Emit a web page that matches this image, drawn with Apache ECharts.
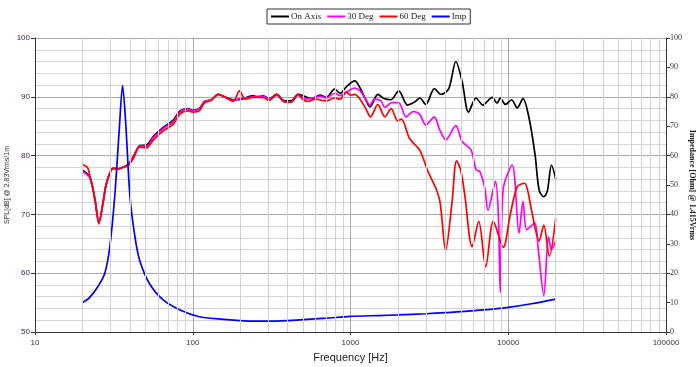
<!DOCTYPE html>
<html><head><meta charset="utf-8">
<script src="https://cdn.jsdelivr.net/npm/echarts@6/dist/echarts.min.js"></script>
<style>html,body{margin:0;padding:0;background:#fff}#c{width:700px;height:367px}</style>
</head><body><div id="c"></div>
<script>
const onAxisFreq=[20,22.3,24,25.4,27,28.4,31.3,33.6,36,38.9,42,46.2,50.9,56,65,75,83,93,100,110,119,131,145,159,180,198,215,240,260,278,306,340,381,420,465,520,570,640,700,794,860,940,1064,1150,1250,1328,1490,1630,1800,2021,2298,2550,2750,3000,3403,3750,4200,4655,5100,5600,6250,6900,7920,8500,8900,9600,10500,11400,12400,13500,14800,15700,16800,17700,18800,20000];
const onAxisDb=[77.5,76.3,72.5,68.6,72,75.3,77.8,77.7,78,78.5,79.8,81.7,81.8,83.2,84.8,86.0,87.6,88.0,87.7,88.0,89.2,89.5,90.4,90.0,89.5,89.5,89.8,90.2,90.0,90.2,89.7,90.4,89.3,89.3,90.4,90.0,89.7,90.3,89.9,91.3,90.6,91.7,92.7,91.5,89.5,88.3,90.4,89.7,89.5,91.0,88.6,89.1,89.8,88.7,91.4,90.4,91.4,96.0,92.6,87.4,89.8,88.6,89.9,88.9,89.8,88.7,89.5,88.1,89.7,86.6,80.1,74.1,73.0,74.0,78.4,76.0];

const deg30Freq=[20,22.3,24,25.4,27,28.4,31.3,33.6,36,38.9,42,46.2,50.9,56,65,75,83,93,100,110,119,131,145,159,180,198,215,240,278,306,340,381,420,465,520,570,640,700,794,860,940,1064,1150,1250,1328,1420,1560,1650,1830,2020,2250,2500,2750,3000,3400,3650,4020,4650,5100,5800,6250,6600,7100,7440,8300,8650,8900,9300,10600,11700,12400,13100,14700,15500,16800,18000,18800,20000];
const deg30Db=[77.3,76.2,72.5,68.7,72,75.4,77.8,77.7,78,78.4,79.7,81.6,81.6,83.0,84.6,85.7,87.4,87.9,87.6,87.9,89.2,89.5,90.4,90.0,89.4,89.7,89.8,90.0,90.1,89.6,90.3,89.2,89.1,90.3,89.6,89.8,90.1,89.8,90.6,90.2,90.8,91.5,91.0,89.6,88.6,89.6,89.3,88.2,89.0,89.0,86.6,87.5,87.0,85.2,86.6,84.6,82.7,85.1,82.4,81.0,77.6,77.3,74.5,70.7,75.6,70,56.7,74.4,78.4,66.8,72.2,67.4,68.5,64,56.2,66.2,64.0,65.5];

const deg60Freq=[20,21.5,22.3,24,25.4,27,28.4,31.3,33.6,36,38.9,42,46.2,50.9,56,65,75,83,93,100,110,119,131,145,159,180,198,215,240,278,306,340,381,420,465,500,540,600,700,794,860,940,1000,1064,1150,1250,1340,1490,1650,1810,1990,2100,2370,2750,3100,3480,3700,4010,4400,4700,5000,5300,5900,6500,7200,8040,9300,10300,11400,12700,13300,14000,15700,16800,18200,20000];
const deg60Db=[78.5,78.0,76.5,72.5,68.4,72,75.3,77.9,77.8,78,78.3,79.5,81.5,81.3,82.6,84.2,85.3,87.1,87.6,87.4,87.6,89.0,89.4,90.4,90.0,89.2,91.0,89.6,89.9,89.9,89.4,90.4,89.1,89.1,90.4,89.5,89.2,89.6,89.3,89.8,89.6,90.8,90.3,90.4,89.6,88.0,86.6,88.7,86.6,88.0,85.9,86.2,82.9,80.9,77.3,74.4,72,63.9,72,79.1,77.5,73.3,64.5,68.8,61.1,68.8,64.4,70,74.7,75.3,74,70.9,65.5,68.2,62.9,69.3];

const impFreq=[20,22,25,27.7,29.8,32,34.2,35.9,37.7,40,43,46,53,65,83,110,150,200,250,300,400,500,700,1000,1500,2000,3000,4000,5000,7000,10000,14000,20000];
const impOhm=[10.0,11.5,15.4,20,29,46,68.7,83.8,69.8,46,32.4,24.5,16.6,10.9,7.5,5.2,4.4,3.9,3.7,3.7,3.9,4.2,4.7,5.3,5.6,5.8,6.2,6.6,6.9,7.5,8.4,9.6,11.2];

const minorFreqs=[];
[10,100,1000,10000].forEach(d=>{for(let k=2;k<=9;k++)minorFreqs.push(d*k);});

const zip=(a,b)=>a.map((v,i)=>[v,b[i]]);
const chart=echarts.init(document.getElementById('c'));
const lineS=(name,fr,vals,color,yi)=>({name,type:'line',yAxisIndex:yi,data:zip(fr,vals),symbol:'none',smooth:0.3,
  lineStyle:{color,width:1.7},itemStyle:{color},z:3});
chart.setOption({
  animation:false,
  backgroundColor:'#fff',
  grid:{left:35,right:34,top:38,bottom:35,outerBoundsMode:'none',containLabel:false},
  legend:{top:9,left:267,itemWidth:18,itemHeight:2,itemGap:6,icon:'rect',
    borderColor:'#333',borderWidth:1,padding:[3,4,3,4],
    textStyle:{fontFamily:'Liberation Serif',fontSize:9,color:'#222',padding:[0,0,0,-3]},
    data:['On Axis','30 Deg','60 Deg','Imp']},
  xAxis:{type:'log',logBase:10,min:10,max:100000,name:'Frequency [Hz]',nameLocation:'middle',nameGap:20,nameMoveOverlap:false,
    nameTextStyle:{fontFamily:'Liberation Sans',fontSize:11,color:'#222'},
    axisLine:{lineStyle:{color:'#333'}},axisTick:{show:true,length:3,inside:false,lineStyle:{color:'#333'}},
    axisLabel:{fontFamily:'Liberation Sans',fontSize:8,color:'#333',margin:7,formatter:v=>String(Math.round(v))},
    splitLine:{show:true,lineStyle:{color:'#a8a8a8',width:1}}},
  yAxis:[{type:'value',min:50,max:100,interval:10,position:'left',
    name:'SPL[dB] @ 2.83Vrms/1m',nameLocation:'middle',nameRotate:90,nameGap:24,nameMoveOverlap:false,
    nameTextStyle:{fontFamily:'Liberation Sans',fontSize:7,color:'#333'},
    axisLine:{show:true,lineStyle:{color:'#333'}},axisTick:{show:true,length:4,lineStyle:{color:'#333'}},
    axisLabel:{fontFamily:'Liberation Sans',fontSize:8,color:'#3a1a4a',margin:5},
    splitLine:{show:true,lineStyle:{color:'#a8a8a8',width:1}},
    minorTick:{show:false,splitNumber:5},
    minorSplitLine:{show:true,lineStyle:{color:'#d4d4d4',width:1}}},
   {type:'value',min:0,max:100,interval:10,position:'right',
    name:'Impedance [Ohm] @ 1.415Vrms',nameLocation:'middle',nameRotate:-90,nameGap:22,nameMoveOverlap:false,
    nameTextStyle:{fontFamily:'Liberation Serif',fontSize:8,color:'#222',fontWeight:'bold'},
    axisLine:{show:true,lineStyle:{color:'#333'}},axisTick:{show:true,length:4,lineStyle:{color:'#333'}},
    axisLabel:{fontFamily:'Liberation Serif',fontSize:8,color:'#333',margin:4},
    splitLine:{show:false}}],
  series:[
    {name:'grid',type:'line',data:[],silent:true,z:1,
      markLine:{silent:true,symbol:'none',label:{show:false},animation:false,
        lineStyle:{color:'#d4d4d4',type:'solid',width:1},
        data:minorFreqs.map(f=>({xAxis:f}))}},
    lineS('On Axis',onAxisFreq,onAxisDb,'#000000',0),
    lineS('30 Deg',deg30Freq,deg30Db,'#ff00ff',0),
    lineS('60 Deg',deg60Freq,deg60Db,'#ff0000',0),
    lineS('Imp',impFreq,impOhm,'#0000ff',1)
  ]
});
</script></body></html>
